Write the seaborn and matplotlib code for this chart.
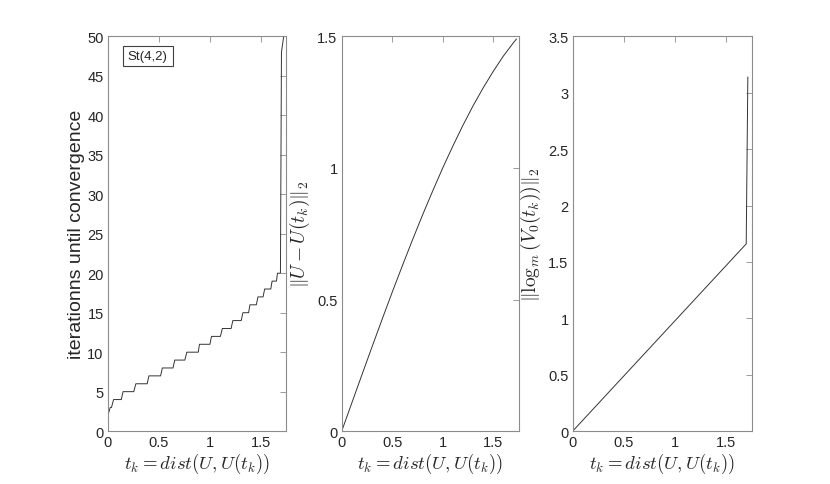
import numpy as np
import matplotlib
matplotlib.use("Agg")
import matplotlib.pyplot as plt
from matplotlib.patches import Rectangle
import pandas as pd
import seaborn as sns

# left panel: iterations until convergence vs t_k (staircase)
t_iter = [0, 0.023, 0.035, 0.056, 0.132, 0.149, 0.254, 0.275, 0.386, 0.403,
          0.518, 0.535, 0.640, 0.657, 0.756, 0.776, 0.888, 0.900, 1.003, 1.018,
          1.106, 1.125, 1.211, 1.228, 1.310, 1.327, 1.383, 1.396, 1.459, 1.475,
          1.525, 1.541, 1.601, 1.614, 1.657, 1.667, 1.696, 1.706, 1.728]
iters = [2, 3, 3, 4, 4, 5, 5, 6, 6, 7,
         7, 8, 8, 9, 9, 10, 10, 11, 11, 12,
         12, 13, 13, 14, 14, 15, 15, 16, 16, 17,
         17, 18, 18, 19, 19, 20, 20, 48, 50]

# middle panel: ||U - U(t_k)||_2
t_dist = [0, 0.1, 0.2, 0.3, 0.4, 0.5, 0.6, 0.7, 0.8, 0.9, 1.0,
          1.1, 1.2, 1.3, 1.4, 1.5, 1.6, 1.7, 1.73]
u_diff = [0, 0.107, 0.214, 0.320, 0.425, 0.528, 0.628, 0.726, 0.821, 0.912, 1.0,
          1.083, 1.162, 1.236, 1.304, 1.367, 1.425, 1.476, 1.490]

# right panel: ||log_m(V_0(t_k))||_2
t_log = [0, 1.696, 1.712]
log_norm = [0, 1.66, 3.14]

xticks = [0, 0.5, 1, 1.5]
yticks_left = list(range(0, 51, 5))
yticks_mid = [0, 0.5, 1, 1.5]
yticks_right = [0, 0.5, 1, 1.5, 2, 2.5, 3, 3.5]

sns.set_style("white")
plt.rcParams['font.family'] = ['Liberation Sans', 'DejaVu Sans']
plt.rcParams['mathtext.fontset'] = 'cm'

fig = plt.figure(figsize=(8.3, 4.85), dpi=100)
ax1 = fig.add_axes([0.130, 0.109, 0.2145, 0.814])
ax2 = fig.add_axes([0.4117, 0.109, 0.213, 0.814])
ax3 = fig.add_axes([0.690, 0.109, 0.2157, 0.814])

edge = '#8c8c8c'
txt = '#262626'
line_kw = dict(color='#333333', lw=0.7, sort=False, estimator=None)

sns.lineplot(x=t_iter, y=iters, ax=ax1, **line_kw)
sns.lineplot(x=t_dist, y=u_diff, ax=ax2, **line_kw)
sns.lineplot(x=t_log, y=log_norm, ax=ax3, **line_kw)

xlabel = r'$t_k = dist(U,U(t_k))$'
setups = [
    (ax1, yticks_left, (0, 50)),
    (ax2, yticks_mid, (0, 1.5)),
    (ax3, yticks_right, (0, 3.5)),
]
for ax, yt, yl in setups:
    ax.set_xlim(0, 1.75)
    ax.set_ylim(*yl)
    ax.set_xticks(xticks)
    ax.set_xticklabels(['%g' % v for v in xticks])
    ax.set_yticks(yt)
    ax.set_yticklabels(['%g' % v for v in yt])
    ax.tick_params(direction='in', top=True, right=True, length=4,
                   width=0.6, color=edge, labelsize=10.5, labelcolor=txt, pad=3)
    for s in ax.spines.values():
        s.set_color(edge)
        s.set_linewidth(0.8)
    ax.set_xlabel(xlabel, fontsize=13.5, color=txt, labelpad=1)

ax1.set_ylabel('iterationns until convergence', fontsize=14, color=txt, labelpad=2)
ax2.set_ylabel(r'$\|U - U(t_k)\|_2$', fontsize=14, color=txt, labelpad=4)
ax3.set_ylabel(r'$\|\log_m(V_0(t_k))\|_2$', fontsize=14, color=txt, labelpad=4)

# legend-like box
ax1.add_patch(Rectangle((0.084, 0.924), 0.28, 0.051, transform=ax1.transAxes,
                        fc='white', ec='#404040', lw=0.8))
ax1.text(0.224, 0.950, 'St(4,2)', transform=ax1.transAxes, fontsize=9.5,
         va='center', ha='center', color=txt)

fig.savefig('out.png', dpi=100)
